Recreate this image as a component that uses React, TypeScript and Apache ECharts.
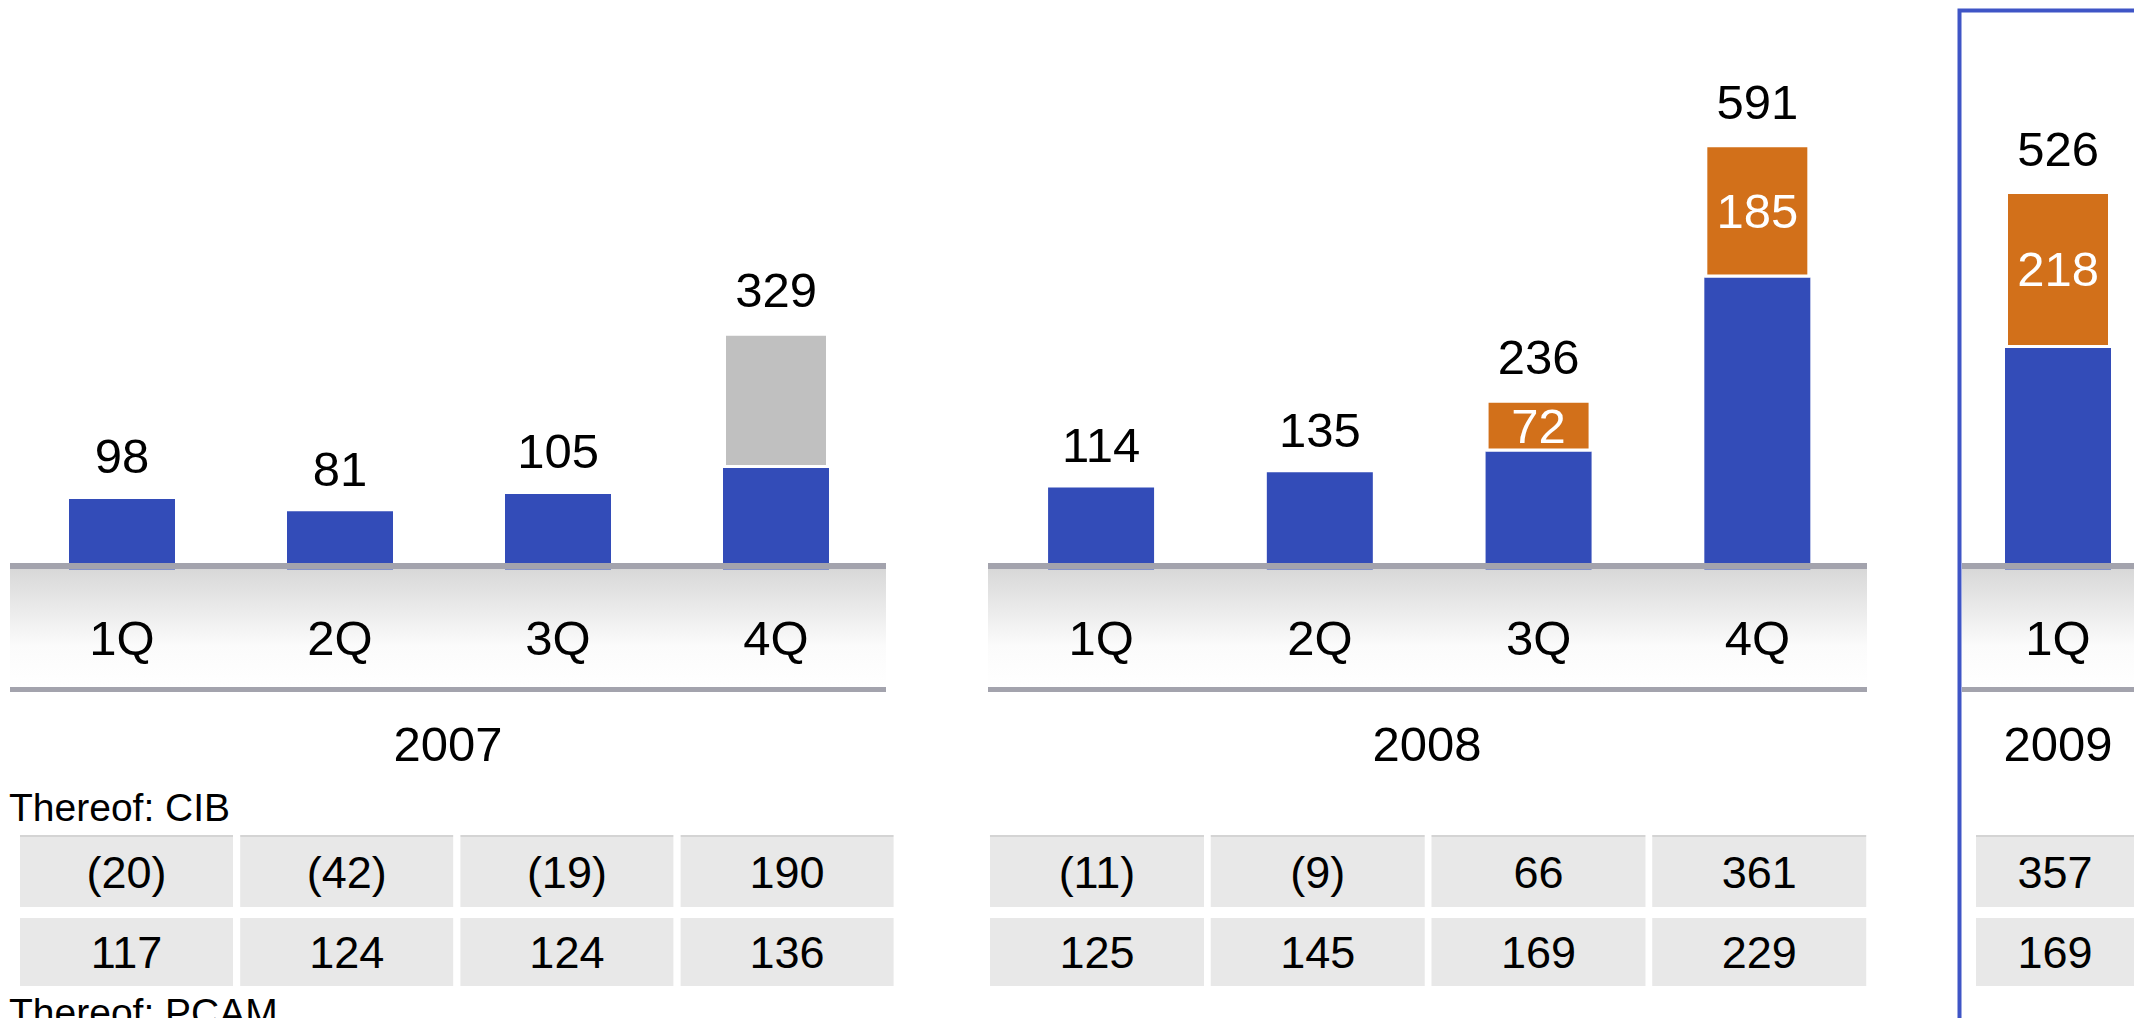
import React, { useEffect, useRef } from "react";
import * as echarts from "echarts";

// ---------- data ----------
const quarters = ["1Q", "2Q", "3Q", "4Q"];
const quarters2009 = ["1Q"];
const yearLabels = ["2007", "2008", "2009"];
const rowTitles = ["Thereof: CIB", "Thereof: PCAM"];

const totals2007 = [98, 81, 105, 329];
const base2007 = [98, 81, 105, 141];
const upper2007 = [null, null, null, 188];

const totals2008 = [114, 135, 236, 591];
const base2008 = [114, 135, 164, 406];
const upper2008 = [null, null, 72, 185];

const totals2009 = [526];
const base2009 = [308];
const upper2009 = [218];

const cib2007 = [-20, -42, -19, 190];
const cib2008 = [-11, -9, 66, 361];
const cib2009 = [357];

const pcam2007 = [117, 124, 124, 136];
const pcam2008 = [125, 145, 169, 229];
const pcam2009 = [169];

// ---------- styles / layout ----------
const FONT = '"Liberation Sans", Arial, Helvetica, sans-serif';
const BLUE = "#334cb8";
const ORANGE = "#d2701a";
const GREY = "#c0c0c0";
const LINE = "#a3a3ad";
const CELL = "#e8e8e8";
const CELL_TOP = "#d4d4d4";
const FRAME = "#3f55c6";

const CHART_TOP = 8.3;
const CHART_HEIGHT = 561.2;
const Y_MAX = 780;
const ROW_TOPS = [835, 918];
const ROW_HEIGHTS = [72, 68];

const panels = [
  {
    cats: quarters, totals: totals2007, base: base2007, upper: upper2007,
    upperColor: GREY, upperLabel: false, cib: cib2007, pcam: pcam2007,
    chartLeft: 13, chartWidth: 872, tableLeft: 16.4, tableWidth: 880.8, cellW: 213,
    bandX: 10, bandW: 876, yearX: 448,
  },
  {
    cats: quarters, totals: totals2008, base: base2008, upper: upper2008,
    upperColor: ORANGE, upperLabel: true, cib: cib2008, pcam: pcam2008,
    chartLeft: 991.7, chartWidth: 875, tableLeft: 986.6, tableWidth: 883, cellW: 214,
    bandX: 988, bandW: 879, yearX: 1427,
  },
  {
    cats: quarters2009, totals: totals2009, base: base2009, upper: upper2009,
    upperColor: ORANGE, upperLabel: true, cib: cib2009, pcam: pcam2009,
    chartLeft: 1982, chartWidth: 152, tableLeft: 1976, tableWidth: 158, cellW: 176,
    bandX: 1962, bandW: 220, yearX: 2058,
  },
];

const fmt = (v: number) => (v < 0 ? `(${-v})` : `${v}`);

function buildOption() {
  const grid: any[] = [];
  const xAxis: any[] = [];
  const yAxis: any[] = [];
  const series: any[] = [];
  const graphic: any[] = [];

  panels.forEach((p, i) => {
    // chart grid
    const gi = grid.length;
    grid.push({ left: p.chartLeft, width: p.chartWidth, top: CHART_TOP, height: CHART_HEIGHT });
    xAxis.push({
      type: "category", gridIndex: gi, data: p.cats,
      axisLine: { show: false }, axisTick: { show: false },
      axisLabel: { fontSize: 49, lineHeight: 50, color: "#000", margin: 43, fontFamily: FONT },
    });
    yAxis.push({ type: "value", gridIndex: gi, min: 0, max: Y_MAX, show: false });
    series.push({
      type: "bar", xAxisIndex: gi, yAxisIndex: gi, stack: "s" + i, barWidth: 106,
      data: p.base, itemStyle: { color: BLUE }, silent: true,
    });
    series.push({
      type: "bar", xAxisIndex: gi, yAxisIndex: gi, stack: "s" + i, barWidth: 106,
      data: p.upper, itemStyle: { color: p.upperColor, borderColor: "#fff", borderWidth: 3 },
      silent: true,
      label: {
        show: p.upperLabel, position: "inside", color: "#fff", fontSize: 49,
        fontFamily: FONT, opacity: 1,
      },
    });
    series.push({
      type: "scatter", xAxisIndex: gi, yAxisIndex: gi, data: p.totals, symbolSize: 1,
      itemStyle: { color: "rgba(0,0,0,0)" }, silent: true, z: 5,
      label: {
        show: true, position: "top", distance: 17, fontSize: 49, lineHeight: 50,
        color: "#000", fontFamily: FONT, opacity: 1,
      },
    });

    // table rows
    [p.cib, p.pcam].forEach((vals, r) => {
      const ti = grid.length;
      const h = ROW_HEIGHTS[r];
      grid.push({ left: p.tableLeft, width: p.tableWidth, top: ROW_TOPS[r], height: h });
      xAxis.push({ type: "category", gridIndex: ti, data: p.cats, show: false });
      yAxis.push({ type: "value", gridIndex: ti, min: 0, max: h, show: false });
      const fillH = r === 0 ? h - 2 : h;
      series.push({
        type: "bar", xAxisIndex: ti, yAxisIndex: ti, stack: "t" + i + r, barWidth: p.cellW,
        data: vals.map(() => fillH), itemStyle: { color: CELL }, silent: true,
        label: {
          show: true, position: "inside", color: "#000", fontSize: 45, fontFamily: FONT,
          formatter: (q: any) => fmt(vals[q.dataIndex]),
        },
      });
      if (r === 0) {
        series.push({
          type: "bar", xAxisIndex: ti, yAxisIndex: ti, stack: "t" + i + r, barWidth: p.cellW,
          data: vals.map(() => 2), itemStyle: { color: CELL_TOP }, silent: true,
        });
      }
    });

    // axis band, lines, year label
    graphic.push({
      type: "rect", z: 0, silent: true,
      shape: { x: p.bandX, y: 569, width: p.bandW, height: 118 },
      style: {
        fill: new echarts.graphic.LinearGradient(0, 0, 0, 1, [
          { offset: 0, color: "#d8d8d8" },
          { offset: 0.65, color: "#fbfbfb" },
          { offset: 1, color: "#ffffff" },
        ]),
      },
    });
    graphic.push({
      type: "rect", z: 100, silent: true,
      shape: { x: p.bandX, y: 563, width: p.bandW, height: 6 },
      style: { fill: LINE },
    });
    graphic.push({
      type: "rect", z: 100, silent: true,
      shape: { x: p.bandX, y: 687, width: p.bandW, height: 5 },
      style: { fill: LINE },
    });
    graphic.push({
      type: "text", z: 100, silent: true, x: p.yearX, y: 744,
      style: {
        text: yearLabels[i], fill: "#000", fontSize: 49, fontFamily: FONT,
        align: "center", verticalAlign: "middle",
        textAlign: "center", textVerticalAlign: "middle",
      },
    });
  });

  // row titles
  [807, 1012].forEach((y, r) => {
    graphic.push({
      type: "text", z: 100, silent: true, x: 9, y,
      style: {
        text: rowTitles[r], fill: "#000", fontSize: 39, fontFamily: FONT,
        align: "left", verticalAlign: "middle",
        textAlign: "left", textVerticalAlign: "middle",
      },
    });
  });

  // 2009 frame
  graphic.push({
    type: "rect", z: 100, silent: true,
    shape: { x: 1959.5, y: 10.5, width: 400, height: 1100 },
    style: { fill: "none", stroke: FRAME, lineWidth: 4 },
  });

  return {
    animation: false,
    backgroundColor: "#ffffff",
    textStyle: { fontFamily: FONT },
    grid, xAxis, yAxis, series, graphic,
  };
}

export default function App() {
  const ref = useRef<HTMLDivElement>(null);
  useEffect(() => {
    if (!ref.current) return;
    const chart = echarts.init(ref.current, undefined, { renderer: "svg" });
    chart.setOption(buildOption() as any);
    return () => chart.dispose();
  }, []);
  return (
    <div
      ref={ref}
      style={{ position: "absolute", left: 0, top: 0, width: 2134, height: 1018, background: "#fff" }}
    />
  );
}
